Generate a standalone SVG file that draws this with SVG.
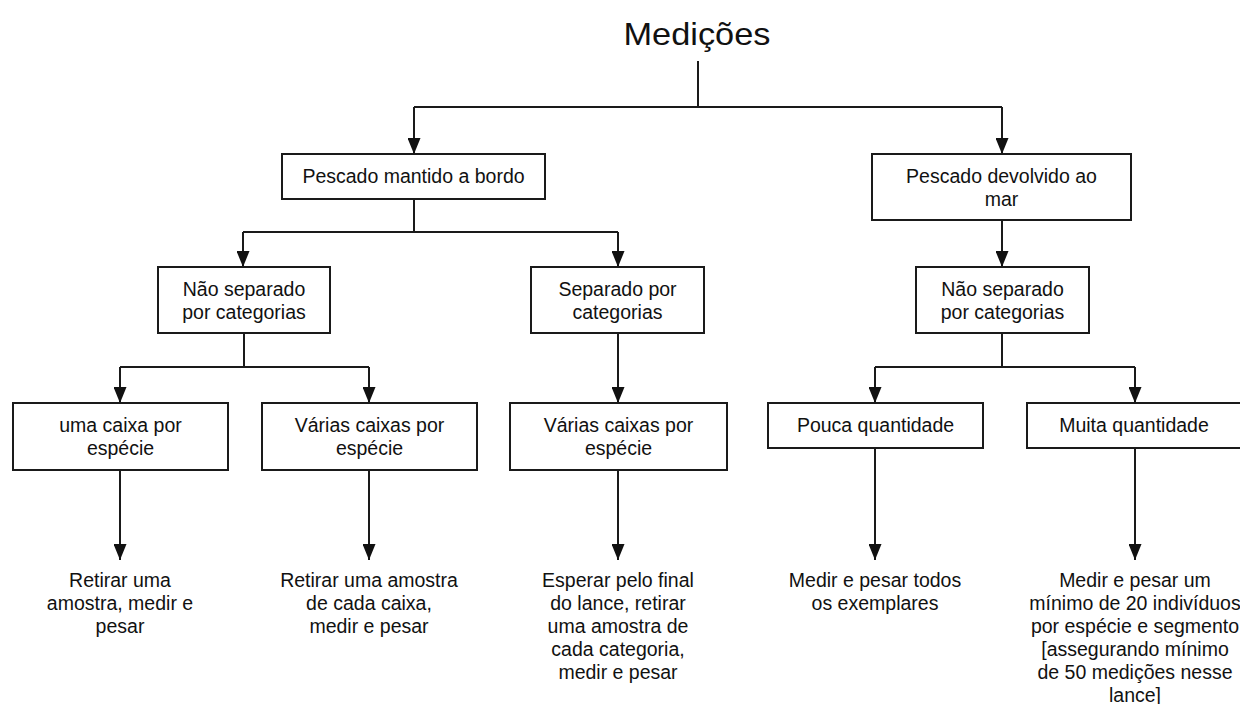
<svg xmlns="http://www.w3.org/2000/svg" width="1240" height="704" viewBox="0 0 1240 704">
<style>
.box{fill:#fff;stroke:#1a1a1a;stroke-width:2}
.ln{fill:none;stroke:#1a1a1a;stroke-width:2}
.t{font-family:"Liberation Sans",Arial,sans-serif;font-size:19.5px;fill:#111;text-anchor:middle}
.title{font-family:"Liberation Sans",Arial,sans-serif;font-size:32px;fill:#111;text-anchor:middle}
</style>
<defs>
<marker id="ah" viewBox="0 0 16 13" refX="16" refY="6.5" markerWidth="16" markerHeight="13" markerUnits="userSpaceOnUse" orient="auto">
<path d="M0,0 L16,6.5 L0,13 z" fill="#111"/>
</marker>
</defs>
<rect width="1240" height="704" fill="#fff"/>
<g id="title"><text class="title" x="697" y="45" textLength="147" lengthAdjust="spacingAndGlyphs">Medições</text></g>
<g id="connectors">
<path class="ln" d="M698,61 V107"/>
<path class="ln" d="M414,107 H1002"/>
<path class="ln" d="M414,107 V154" marker-end="url(#ah)"/>
<path class="ln" d="M1002,107 V154" marker-end="url(#ah)"/>
<path class="ln" d="M414,199 V232 M243,232 H618"/>
<path class="ln" d="M243,232 V267" marker-end="url(#ah)"/>
<path class="ln" d="M618,232 V267" marker-end="url(#ah)"/>
<path class="ln" d="M1002,220 V267" marker-end="url(#ah)"/>
<path class="ln" d="M244,333 V367 M120,367 H369"/>
<path class="ln" d="M120,367 V403" marker-end="url(#ah)"/>
<path class="ln" d="M369,367 V403" marker-end="url(#ah)"/>
<path class="ln" d="M618,333 V403" marker-end="url(#ah)"/>
<path class="ln" d="M1002,333 V367 M875,367 H1135"/>
<path class="ln" d="M875,367 V403" marker-end="url(#ah)"/>
<path class="ln" d="M1135,367 V403" marker-end="url(#ah)"/>
<path class="ln" d="M120,470 V560" marker-end="url(#ah)"/>
<path class="ln" d="M369,470 V560" marker-end="url(#ah)"/>
<path class="ln" d="M618,470 V560" marker-end="url(#ah)"/>
<path class="ln" d="M875,448 V560" marker-end="url(#ah)"/>
<path class="ln" d="M1135,448 V560" marker-end="url(#ah)"/>
</g>
<g id="nodeA"><rect class="box" x="282" y="154" width="263" height="45"/><text class="t" x="413.5" y="183">Pescado mantido a bordo</text></g>
<g id="nodeB"><rect class="box" x="872" y="154" width="259" height="66"/><text class="t" x="1001.5" y="182.5">Pescado devolvido ao</text><text class="t" x="1001.5" y="205.5">mar</text></g>
<g id="nodeC"><rect class="box" x="158" y="267" width="172" height="66"/><text class="t" x="244" y="295.5">Não separado</text><text class="t" x="244" y="318.5">por categorias</text></g>
<g id="nodeD"><rect class="box" x="531" y="267" width="173" height="66"/><text class="t" x="617.5" y="295.5">Separado por</text><text class="t" x="617.5" y="318.5">categorias</text></g>
<g id="nodeE"><rect class="box" x="916" y="267" width="173" height="66"/><text class="t" x="1002.5" y="295.5">Não separado</text><text class="t" x="1002.5" y="318.5">por categorias</text></g>
<g id="nodeF"><rect class="box" x="13" y="403" width="215" height="67"/><text class="t" x="120.5" y="432">uma caixa por</text><text class="t" x="120.5" y="455">espécie</text></g>
<g id="nodeG"><rect class="box" x="262" y="403" width="215" height="67"/><text class="t" x="369.5" y="432">Várias caixas por</text><text class="t" x="369.5" y="455">espécie</text></g>
<g id="nodeH"><rect class="box" x="510" y="403" width="217" height="67"/><text class="t" x="618.5" y="432">Várias caixas por</text><text class="t" x="618.5" y="455">espécie</text></g>
<g id="nodeI"><rect class="box" x="768" y="403" width="215" height="45"/><text class="t" x="875.5" y="432">Pouca quantidade</text></g>
<g id="nodeJ"><rect class="box" x="1027" y="403" width="216" height="45"/><text class="t" x="1134" y="432">Muita quantidade</text></g>
<g id="outF"><text class="t" x="120" y="587">Retirar uma</text><text class="t" x="120" y="610">amostra, medir e</text><text class="t" x="120" y="633">pesar</text></g>
<g id="outG"><text class="t" x="369" y="587">Retirar uma amostra</text><text class="t" x="369" y="610">de cada caixa,</text><text class="t" x="369" y="633">medir e pesar</text></g>
<g id="outH"><text class="t" x="618" y="587">Esperar pelo final</text><text class="t" x="618" y="610">do lance, retirar</text><text class="t" x="618" y="633">uma amostra de</text><text class="t" x="618" y="656">cada categoria,</text><text class="t" x="618" y="679">medir e pesar</text></g>
<g id="outI"><text class="t" x="875" y="587">Medir e pesar todos</text><text class="t" x="875" y="610">os exemplares</text></g>
<g id="outJ"><text class="t" x="1135" y="587">Medir e pesar um</text><text class="t" x="1135" y="610">mínimo de 20 indivíduos</text><text class="t" x="1135" y="633">por espécie e segmento</text><text class="t" x="1135" y="656">[assegurando mínimo</text><text class="t" x="1135" y="679">de 50 medições nesse</text><text class="t" x="1135" y="702">lance]</text></g>
</svg>
